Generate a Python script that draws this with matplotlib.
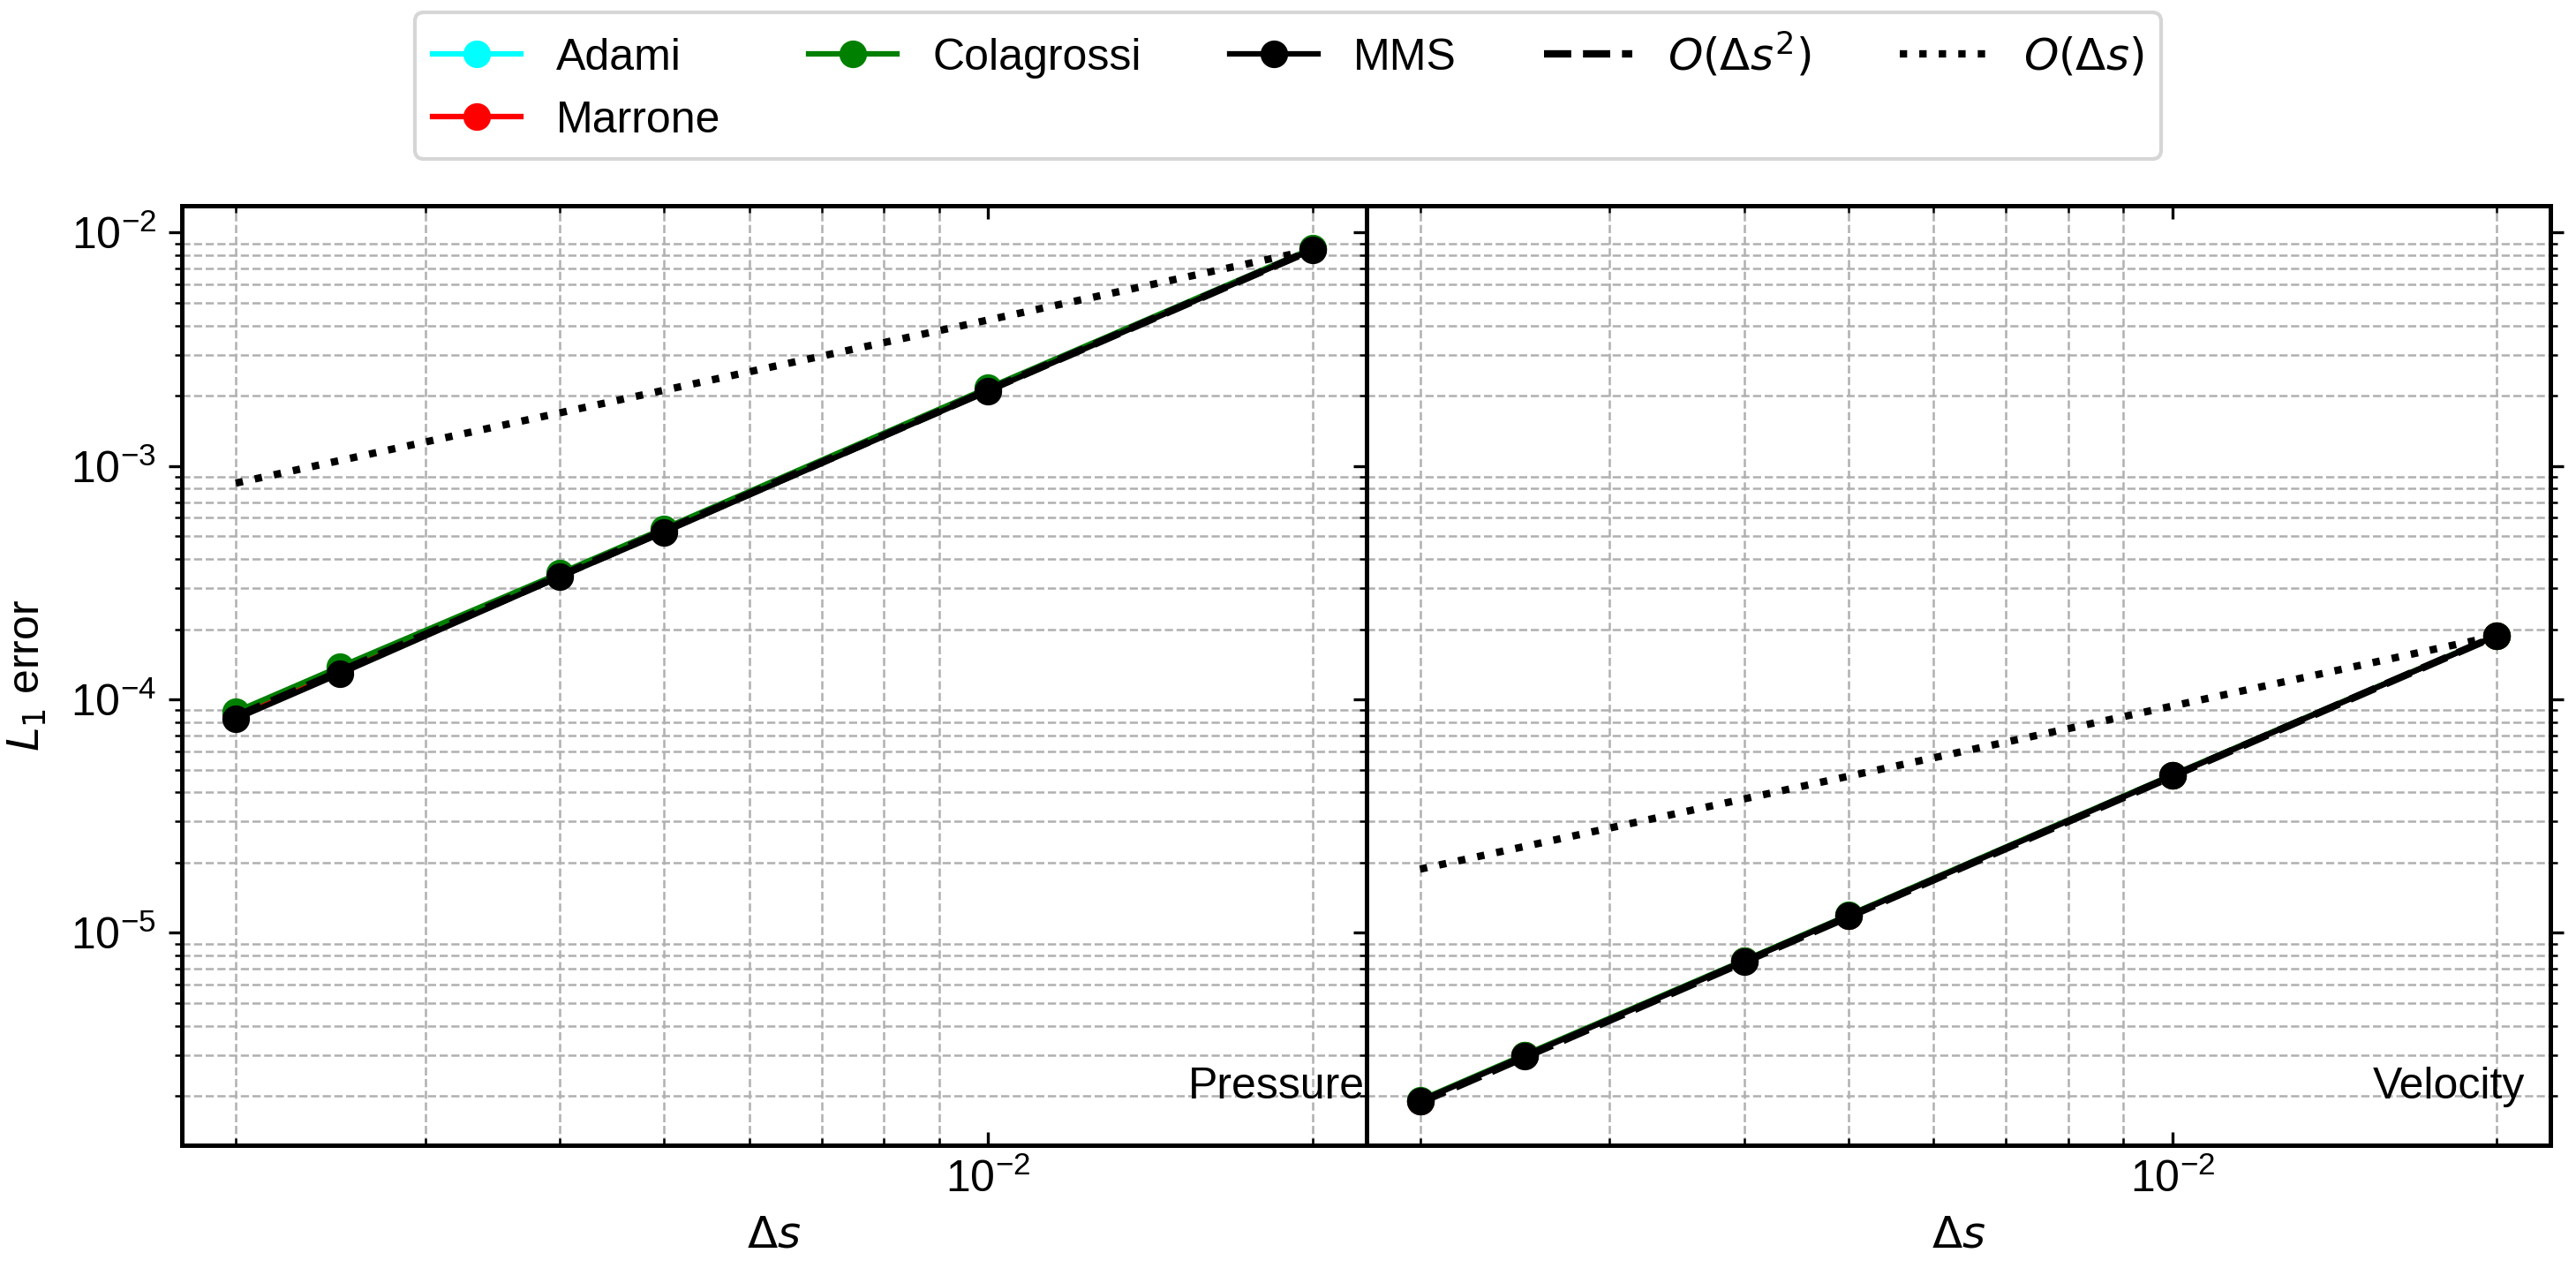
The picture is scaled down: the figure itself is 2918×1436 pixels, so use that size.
import matplotlib
matplotlib.use("Agg")
import matplotlib.pyplot as plt

plt.rcParams['font.family'] = ['Liberation Sans', 'DejaVu Sans']
plt.rcParams['mathtext.fontset'] = 'dejavusans'
plt.rcParams['font.size'] = 12

# grid spacing
ds = [0.002, 0.0025, 0.004, 0.005, 0.01, 0.02]

# pressure L1 errors
p_adami = [8.70e-5, 1.36e-4, 3.44e-4, 5.35e-4, 2.14e-3, 8.50e-3]
p_marrone = [8.60e-5, 1.34e-4, 3.42e-4, 5.33e-4, 2.13e-3, 8.48e-3]
p_colagrossi = [8.85e-5, 1.38e-4, 3.47e-4, 5.40e-4, 2.16e-3, 8.55e-3]
p_mms = [8.26e-5, 1.29e-4, 3.35e-4, 5.21e-4, 2.10e-3, 8.45e-3]

# velocity L1 errors
v_adami = [1.91e-6, 2.98e-6, 7.58e-6, 1.185e-5, 4.73e-5, 1.878e-4]
v_marrone = [1.91e-6, 2.98e-6, 7.58e-6, 1.185e-5, 4.73e-5, 1.878e-4]
v_colagrossi = [1.92e-6, 3.00e-6, 7.62e-6, 1.19e-5, 4.75e-5, 1.88e-4]
v_mms = [1.905e-6, 2.97e-6, 7.56e-6, 1.18e-5, 4.72e-5, 1.875e-4]

# reference slopes (end points)
ref_ds = [0.002, 0.02]
p_ref2 = [8.45e-5, 8.45e-3]
p_ref1 = [8.45e-4, 8.45e-3]
v_ref2 = [1.875e-6, 1.875e-4]
v_ref1 = [1.875e-5, 1.875e-4]

panels = [
    ("Pressure", p_adami, p_marrone, p_colagrossi, p_mms, p_ref2, p_ref1),
    ("Velocity", v_adami, v_marrone, v_colagrossi, v_mms, v_ref2, v_ref1),
]

fig, axes = plt.subplots(1, 2, sharey=True, figsize=(2918 / 300, 1436 / 300), dpi=300)
fig.subplots_adjust(left=0.0706, right=0.9901, bottom=0.0968, top=0.8377, wspace=0)

for i, (name, ad, ma, co, mm, r2, r1) in enumerate(panels):
    ax = axes[i]
    ax.plot(ds, ad, '-o', color='cyan', lw=1.5, ms=6.5, label='Adami')
    ax.plot(ds, ma, '-o', color='red', lw=1.5, ms=6.5, label='Marrone')
    ax.plot(ds, co, '-o', color='green', lw=1.5, ms=6.5, label='Colagrossi')
    ax.plot(ds, mm, '-o', color='black', lw=1.5, ms=6.5, label='MMS')
    ax.plot(ref_ds, r2, '--', color='black', lw=2, label=r'$O(\Delta s^2)$')
    ax.plot(ref_ds, r1, ':', color='black', lw=2, label=r'$O(\Delta s)$')
    ax.set_xscale('log')
    ax.set_yscale('log')
    ax.grid(which='minor', ls='--', lw=0.6, color='#b0b0b0')
    ax.tick_params(axis='x', which='both', direction='in', top=True, bottom=True)
    ax.tick_params(axis='y', which='both', direction='out')
    ax.set_xlabel(r'$\Delta s$')
    ax.text(0.85, 0.05, name, transform=ax.transAxes, ha='left', fontsize=12)
    for sp in ax.spines.values():
        sp.set_linewidth(1.2)

axes[1].tick_params(axis='y', which='both', right=True, left=True)
axes[0].set_ylabel(r'$L_1$ error', labelpad=6)

handles, labels = axes[0].get_legend_handles_labels()
fig.legend(handles, labels, loc='upper center', bbox_to_anchor=(0.5, 1.0077), ncol=5, fontsize=12)

fig.savefig('out.png', dpi=300)
